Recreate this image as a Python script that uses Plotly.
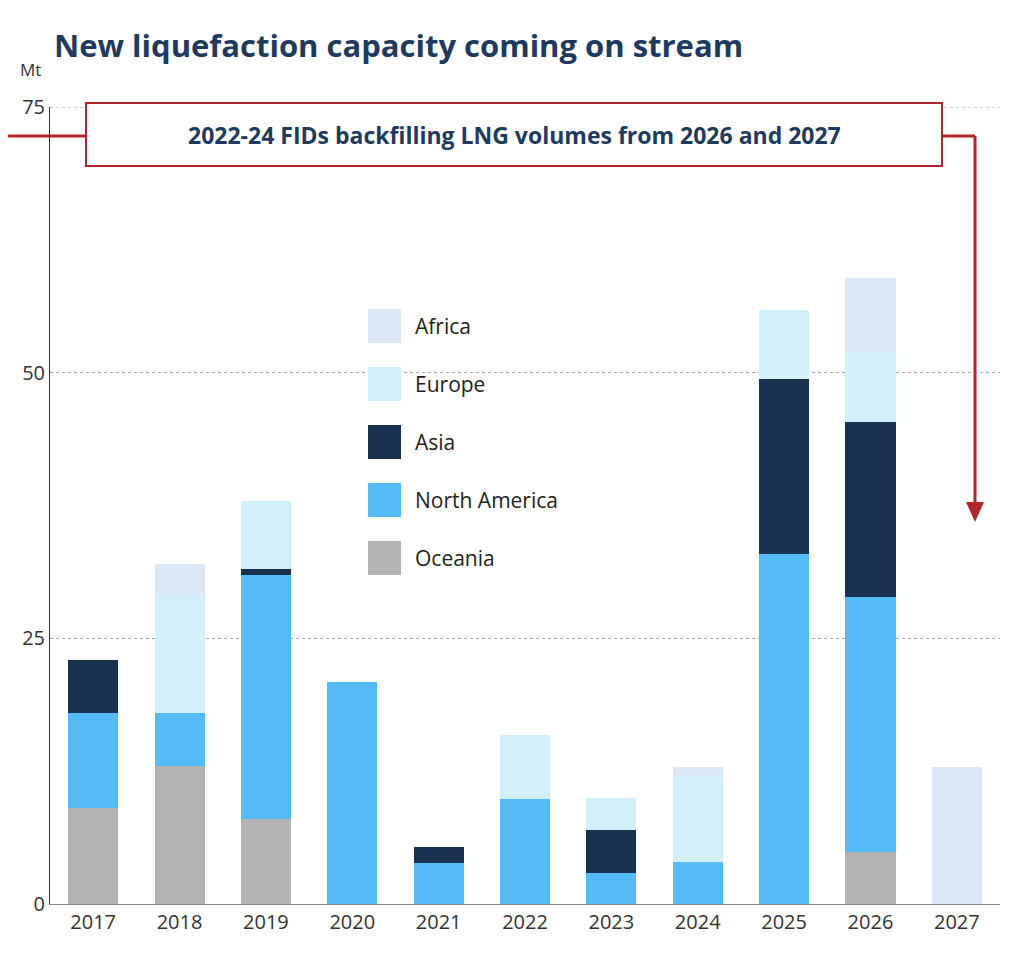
import plotly.graph_objects as go

years = ["2017","2018","2019","2020","2021","2022","2023","2024","2025","2026","2027"]
oceania = [9, 13, 8, 0, 0, 0, 0, 0, 0, 4.9, 0]
north_america = [9, 5, 23, 20.9, 3.9, 9.9, 2.9, 3.95, 32.9, 24, 0]
asia = [5, 0, 0.5, 0, 1.5, 0, 4.1, 0, 16.5, 16.5, 0]
europe = [0, 11, 6.4, 0, 0, 6, 3, 8, 6.5, 6.5, 0]
africa = [0, 3, 0, 0, 0, 0, 0, 0.9, 0, 7, 12.9]

series = [("Oceania", oceania, "#b3b3b3"), ("North America", north_america, "#55bbf7"),
          ("Asia", asia, "#1a3150"), ("Europe", europe, "#d2effa"), ("Africa", africa, "#dce8f6")]

fig = go.Figure()
for name, vals, col in series:
    fig.add_bar(x=years, y=vals, name=name, marker_color=col, marker_line_width=0, showlegend=False)

W, H = 1024, 966
OFF = 8
L, R, T, B = 42, 32, 99, 70
pw, ph = W - L - R, H - T - B
def px(x): return (x - OFF - L) / pw
def py(y): return (H - B - (y - OFF)) / ph

shapes, annots = [], []
shapes.append(dict(type="line", xref="paper", yref="y", x0=0, x1=1, y0=75, y1=75,
                   line=dict(color="#aaa", width=1, dash="dot")))
leg = list(reversed(series))
for i, (name, vals, col) in enumerate(leg):
    yc = 326 + 58 * i
    shapes.append(dict(type="rect", xref="paper", yref="paper", x0=px(368), x1=px(401),
                       y0=py(yc + 17), y1=py(yc - 17), fillcolor=col, line_width=0))
    annots.append(dict(text=name, xref="paper", yref="paper", x=px(413), y=py(yc), xanchor="left",
                       yanchor="middle", showarrow=False, font=dict(size=21, color="#222")))
red = "#b0262a"
shapes += [
    dict(type="line", xref="paper", yref="paper", x0=px(0), x1=px(86), y0=py(136), y1=py(136), line=dict(color=red, width=3)),
    dict(type="line", xref="paper", yref="paper", x0=px(942), x1=px(975), y0=py(136), y1=py(136), line=dict(color=red, width=3)),
    dict(type="line", xref="paper", yref="paper", x0=px(975), x1=px(975), y0=py(136), y1=py(505), line=dict(color=red, width=3)),
    dict(type="path", xref="paper", yref="paper",
         path=f"M {px(966)} {py(502)} L {px(984)} {py(502)} L {px(975)} {py(522)} Z", fillcolor=red, line_width=0),
    dict(type="rect", xref="paper", yref="paper", x0=px(86), x1=px(942), y0=py(166), y1=py(103),
         fillcolor="white", line=dict(color=red, width=2)),
]
annots += [
    dict(text="<b>2022-24 FIDs backfilling LNG volumes from 2026 and 2027</b>", xref="paper", yref="paper",
         x=px(514), y=py(135), yanchor="middle", showarrow=False, font=dict(size=23, color="#1f3a5f")),
    dict(text="<b>New liquefaction capacity coming on stream</b>", xref="paper", yref="paper",
         x=px(52), y=py(45), xanchor="left", yanchor="middle", showarrow=False, font=dict(size=31, color="#1f3a5f")),
    dict(text="Mt", xref="paper", yref="paper", x=px(18), y=py(70), xanchor="left", yanchor="middle",
         showarrow=False, font=dict(size=17, color="#333")),
]

fig.update_layout(
    width=W, height=H, barmode="stack", bargap=0.42, plot_bgcolor="white", paper_bgcolor="white",
    margin=dict(l=L, r=R, t=T, b=B), font=dict(family="Open Sans", color="#333"),
    shapes=shapes, annotations=annots,
    xaxis=dict(range=[-0.5, 10.5], showline=True, linecolor="#888", tickfont=dict(size=20), ticks=""),
    yaxis=dict(range=[0, 75], tickvals=[0, 25, 50, 75], showline=True, linecolor="#1f3a5f",
               showgrid=True, gridcolor="#aaa", griddash="dot", zeroline=False, tickfont=dict(size=20)),
)
fig.write_html("out.html")
